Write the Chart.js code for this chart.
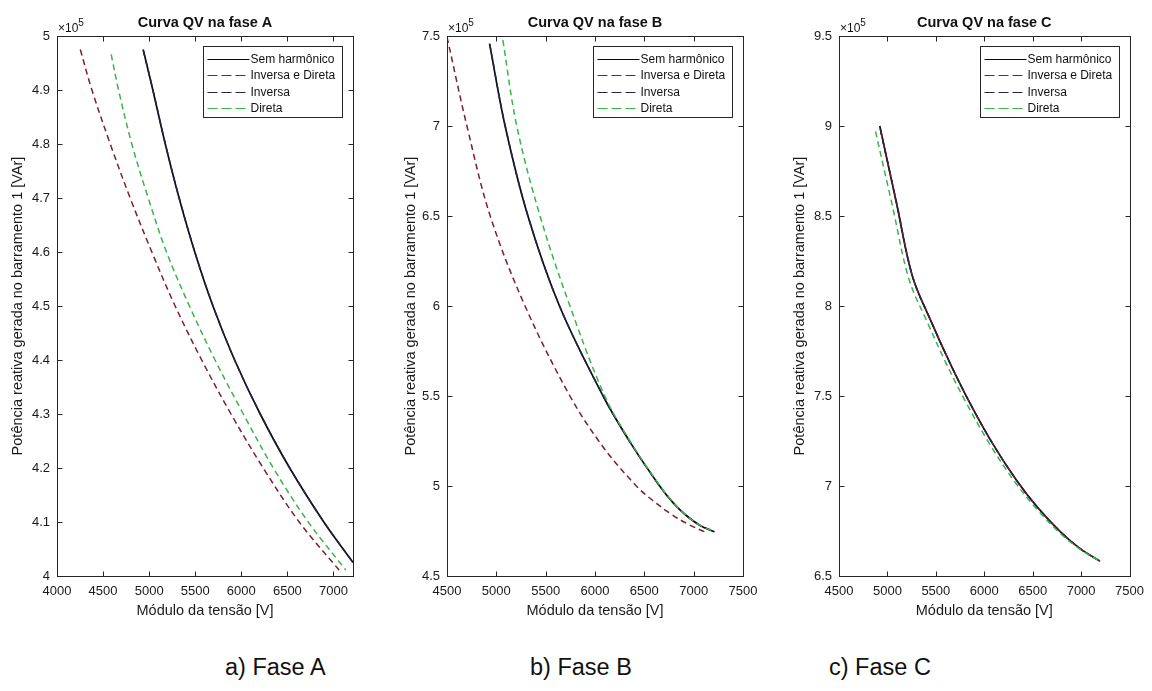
<!DOCTYPE html>
<html lang="pt-BR">
<head>
<meta charset="utf-8">
<title>Curvas QV</title>
<script src="https://cdn.jsdelivr.net/npm/chart.js@4.4.0/dist/chart.umd.min.js"></script>
<style>
  body { margin: 0; background: #fff; }
  #figura { position: relative; width: 1152px; height: 691px; background: #fff;
            font-family: "Liberation Sans", Arial, sans-serif; }
  #figura canvas { position: absolute; top: 0; }
  .rotulo { position: absolute; top: 653px; font-size: 23.5px; line-height: 28px; color: #111; }
</style>
</head>
<body>
<div id="figura">
  <canvas id="faseA" width="384" height="640" style="left:0"></canvas>
  <canvas id="faseB" width="384" height="640" style="left:384px"></canvas>
  <canvas id="faseC" width="384" height="640" style="left:768px"></canvas>
  <div class="rotulo" style="left:225px">a) Fase A</div>
  <div class="rotulo" style="left:530px">b) Fase B</div>
  <div class="rotulo" style="left:829px">c) Fase C</div>
</div>
<script>
// Curvas QV: [tensão (V), potência reativa (VAr)]
const faseA_semHarmonico = [[4935, 497500], [5040, 490000], [5175, 480000], [5325, 470000], [5495, 460000],
  [5692, 450000], [5927, 440000], [6205, 430000], [6525, 420000], [6895, 410000], [7212, 402500]];
const faseA_inversaDireta = [[4253, 497500], [4379, 490000], [4578, 480000], [4794, 470000], [5029, 460000],
  [5282, 450000], [5570, 440000], [5888, 430000], [6238, 420000], [6628, 410000], [7061, 401100]];
const faseA_inversa = [[4937, 497300], [5041, 490000], [5176, 480000], [5326, 470000], [5496, 460000],
  [5693, 450000], [5928, 440000], [6206, 430000], [6526, 420000], [6896, 410000], [7210, 402600]];
const faseA_direta = [[4588, 496600], [4668, 490000], [4812, 480000], [4990, 470000], [5188, 460000],
  [5437, 450000], [5715, 440000], [6022, 430000], [6347, 420000], [6726, 410000], [7134, 401100]];

const faseB_semHarmonico = [[4931, 745800], [5089, 700000], [5320, 650000], [5640, 600000], [6082, 550000],
  [6370, 523100], [6655, 500000], [6795, 490500], [6925, 483600], [7065, 478100], [7210, 474600]];
const faseB_inversaDireta = [[4500, 749500], [4702, 700000], [4938, 650000], [5291, 600000], [5746, 550000],
  [6082, 521700], [6419, 500000], [6589, 491800], [6769, 484500], [6939, 478900], [7109, 474600]];
const faseB_inversa = [[4933, 745500], [5090, 700000], [5321, 650000], [5641, 600000], [6083, 550000],
  [6371, 523100], [6656, 500000], [6796, 490500], [6926, 483600], [7066, 478100], [7210, 474700]];
const faseB_direta = [[5066, 747800], [5207, 700000], [5443, 650000], [5746, 600000], [6099, 550000],
  [6375, 523200], [6660, 500000], [6797, 490500], [6926, 483600], [7066, 478100], [7210, 474600]];

const faseC_semHarmonico = [[4921, 900000], [5090, 858000], [5258, 816500], [5450, 791600], [5640, 768900],
  [5830, 748300], [6080, 724100], [6335, 703000], [6550, 688100], [6800, 673800], [7000, 664800], [7194, 658300]];
const faseC_inversaDireta = [[4931, 897000], [5097, 857000], [5262, 816000], [5452, 791400], [5642, 768800],
  [5831, 748200], [6081, 724100], [6335, 703000], [6550, 688100], [6800, 673800], [7000, 664800], [7194, 658300]];
const faseC_inversa = [[4926, 898500], [5093, 857500], [5260, 816300], [5451, 791500], [5641, 768900],
  [5830, 748300], [6080, 724100], [6335, 703000], [6550, 688100], [6800, 673800], [7000, 664800], [7194, 658300]];
const faseC_direta = [[4877, 897000], [5050, 856000], [5222, 815000], [5412, 791000], [5605, 768300],
  [5797, 747900], [6050, 723800], [6310, 702700], [6530, 687900], [6785, 673700], [6992, 664700], [7194, 658300]];

const series = ['Sem harmônico', 'Inversa e Direta', 'Inversa', 'Direta'];

// marcas dos eixos
const ticksX_A = [4000, 4500, 5000, 5500, 6000, 6500, 7000];
const ticksX_BC = [4500, 5000, 5500, 6000, 6500, 7000, 7500];
const ticksY_A = [400000, 410000, 420000, 430000, 440000, 450000, 460000, 470000, 480000, 490000, 500000];
const ticksY_B = [450000, 500000, 550000, 600000, 650000, 700000, 750000];
const ticksY_C = [650000, 700000, 750000, 800000, 850000, 900000, 950000];

// limites dos eixos [mín, máx]
const limitesA = { x: [4000, 7212], y: [400000, 500000], ticksX: ticksX_A, ticksY: ticksY_A };
const limitesB = { x: [4500, 7500], y: [450000, 750000], ticksX: ticksX_BC, ticksY: ticksY_B };
const limitesC = { x: [4500, 7500], y: [650000, 950000], ticksX: ticksX_BC, ticksY: ticksY_C };

const fonte = '"Liberation Sans", Arial, sans-serif';
Chart.defaults.font.family = fonte;
Chart.defaults.color = '#1a1a1a';

const estilos = [
  { borderColor: '#0a0a0a', borderDash: [], borderWidth: 1.7, order: 3 },
  { borderColor: '#7d1f2e', borderDash: [6, 4], borderWidth: 1.5, order: 2 },
  { borderColor: '#24244a', borderDash: [6, 4], borderWidth: 1.5, order: 1 },
  { borderColor: '#3db34c', borderDash: [6, 4], borderWidth: 1.5, order: 0 }
];

// moldura estilo MATLAB: caixa, marcas internas, título, x10^5 e legenda
const moldura = {
  id: 'moldura',
  afterDatasetsDraw(chart, args, opts) {
    const { ctx, chartArea: a, scales: { x, y } } = chart;
    ctx.save();
    ctx.strokeStyle = '#262626';
    ctx.lineWidth = 1;
    ctx.setLineDash([]);
    const L = Math.round(a.left) + 0.5, R = Math.round(a.right) + 0.5;
    const T = Math.round(a.top) + 0.5, B = Math.round(a.bottom) + 0.5;
    ctx.beginPath();
    x.ticks.forEach(t => {
      const px = Math.round(x.getPixelForValue(t.value)) + 0.5;
      ctx.moveTo(px, B); ctx.lineTo(px, B - 5);
      ctx.moveTo(px, T); ctx.lineTo(px, T + 5);
    });
    y.ticks.forEach(t => {
      const py = Math.round(y.getPixelForValue(t.value)) + 0.5;
      ctx.moveTo(L, py); ctx.lineTo(L + 5, py);
      ctx.moveTo(R, py); ctx.lineTo(R - 5, py);
    });
    ctx.stroke();
    ctx.strokeRect(L, T, R - L, B - T);

    // título
    ctx.fillStyle = '#111';
    ctx.font = 'bold 14.5px ' + fonte;
    ctx.textAlign = 'center';
    ctx.textBaseline = 'middle';
    ctx.fillText(opts.titulo, (a.left + a.right) / 2, 23);

    // fator de escala
    ctx.textAlign = 'left';
    ctx.textBaseline = 'alphabetic';
    ctx.font = '12px ' + fonte;
    ctx.fillText('\u00d710', a.left + 1, 32);
    const w = ctx.measureText('\u00d710').width;
    ctx.font = '10px ' + fonte;
    ctx.fillText('5', a.left + 1 + w, 26);

    // legenda
    const lw = 139, lh = 71;
    const lx = Math.round(a.right - 11 - lw) + 0.5, ly = Math.round(a.top + 10) + 0.5;
    ctx.fillStyle = '#fff';
    ctx.fillRect(lx, ly, lw, lh);
    ctx.strokeStyle = '#262626';
    ctx.strokeRect(lx, ly, lw, lh);
    ctx.font = '12px ' + fonte;
    ctx.textBaseline = 'middle';
    chart.data.datasets.forEach((ds, i) => {
      const cy = Math.round(ly + 12 + i * 16.5) + 0.5;
      ctx.strokeStyle = ds.borderColor;
      ctx.lineWidth = 1.2;
      ctx.setLineDash(ds.borderDash.length ? [10, 4] : []);
      ctx.beginPath();
      ctx.moveTo(lx + 4, cy);
      ctx.lineTo(lx + 46, cy);
      ctx.stroke();
      ctx.setLineDash([]);
      ctx.fillStyle = '#111';
      ctx.fillText(ds.label, lx + 47, cy + 0.5);
    });
    ctx.restore();
  }
};

function formatoY(v) {
  return String(Number((v / 1e5).toFixed(1)));
}

function criarGrafico(id, titulo, curvas, lim, esquerda, direita, padTituloY) {
  const datasets = curvas.map((c, i) => Object.assign({
    label: series[i],
    data: c.map(p => ({ x: p[0], y: p[1] })),
    pointRadius: 0,
    tension: 0.35,
    fill: false
  }, estilos[i]));

  new Chart(document.getElementById(id), {
    type: 'line',
    data: { datasets },
    options: {
      responsive: false,
      animation: false,
      layout: { padding: { left: 0, right: direita, top: 36, bottom: 0 } },
      plugins: {
        legend: { display: false },
        tooltip: { enabled: false },
        moldura: { titulo }
      },
      scales: {
        x: {
          type: 'linear',
          min: lim.x[0], max: lim.x[1],
          grid: { display: false, drawTicks: false },
          border: { display: false },
          afterBuildTicks: s => { s.ticks = lim.ticksX.map(v => ({ value: v })); },
          ticks: { autoSkip: false, maxRotation: 0, padding: 8, font: { size: 13 },
                   callback: v => String(v) },
          title: { display: true, text: 'Módulo da tensão [V]', font: { size: 14.5 },
                   padding: { top: 0, bottom: 20 } },
          afterFit: s => { s.height = 64; }
        },
        y: {
          type: 'linear',
          min: lim.y[0], max: lim.y[1],
          grid: { display: false, drawTicks: false },
          border: { display: false },
          afterBuildTicks: s => { s.ticks = lim.ticksY.map(v => ({ value: v })); },
          ticks: { autoSkip: false, padding: 7, font: { size: 13 }, callback: formatoY },
          title: { display: true, text: 'Potência reativa gerada no barramento 1 [VAr]',
                   font: { size: 14.5 }, padding: { top: padTituloY, bottom: 0 } },
          afterFit: s => { s.width = esquerda; }
        }
      }
    },
    plugins: [moldura]
  });
}

criarGrafico('faseA', 'Curva QV na fase A',
  [faseA_semHarmonico, faseA_inversaDireta, faseA_inversa, faseA_direta], limitesA, 57, 31, 9);
criarGrafico('faseB', 'Curva QV na fase B',
  [faseB_semHarmonico, faseB_inversaDireta, faseB_inversa, faseB_direta], limitesB, 63, 25, 18);
criarGrafico('faseC', 'Curva QV na fase C',
  [faseC_semHarmonico, faseC_inversaDireta, faseC_inversa, faseC_direta], limitesC, 71, 17, 23);
</script>
</body>
</html>
